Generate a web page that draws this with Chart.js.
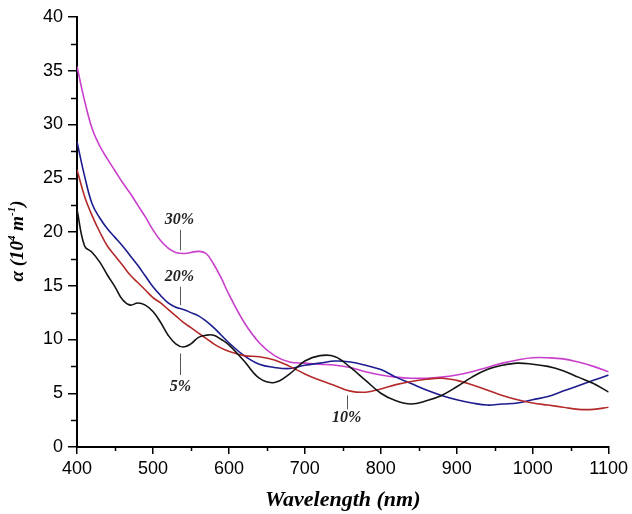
<!DOCTYPE html>
<html lang="en">
<head>
  <meta charset="UTF-8" />
  <title>Absorption coefficient</title>
  <script src="https://cdn.jsdelivr.net/npm/chart.js"></script>
  <style>
    body {
      margin: 0;
      background: #fff;
    }
    canvas {
      display: block;
    }
  </style>
</head>
<body>
  <canvas id="alphaChart" width="632" height="514"></canvas>

  <script>
    // wavelength grid (nm): 10 nm steps up to 600, 20 nm after
    const wavelength = [
      400, 410, 420, 430, 440, 450, 460, 470, 480, 490, 500,
      510, 520, 530, 540, 550, 560, 570, 580, 590, 600,
      620, 640, 660, 680, 700, 720, 740, 760, 780, 800,
      820, 840, 860, 880, 900, 920, 940, 960, 980, 1000,
      1020, 1040, 1060, 1080, 1100
    ];

    // absorption coefficient, 10^4 m^-1
    const alpha5 = [
      22.1, 18.7, 18.1, 17.2, 16.0, 14.9, 13.7, 13.2, 13.4, 13.2, 12.6,
      11.6, 10.4, 9.6, 9.3, 9.6, 10.2, 10.4, 10.4, 10.0, 9.5,
      8.0, 6.4, 6.0, 6.8, 8.0, 8.5, 8.4, 7.4, 6.2, 5.0,
      4.3, 4.0, 4.3, 4.8, 5.6, 6.5, 7.2, 7.6, 7.8, 7.7,
      7.5, 7.1, 6.5, 5.9, 5.1
    ];
    const alpha10 = [
      25.8, 23.3, 21.5, 20.0, 18.7, 17.8, 16.9, 16.0, 15.3, 14.6, 13.9,
      13.4, 12.8, 12.2, 11.6, 11.1, 10.6, 10.1, 9.6, 9.2, 8.9,
      8.5, 8.4, 8.1, 7.5, 6.8, 6.2, 5.7, 5.2, 5.1, 5.4,
      5.8, 6.1, 6.3, 6.4, 6.2, 5.8, 5.3, 4.8, 4.4, 4.1,
      3.9, 3.7, 3.5, 3.5, 3.7
    ];
    const alpha20 = [
      28.4, 25.2, 22.6, 21.3, 20.3, 19.5, 18.7, 17.8, 16.9, 15.9, 14.9,
      14.1, 13.4, 13.0, 12.8, 12.5, 12.2, 11.7, 11.1, 10.4, 9.7,
      8.5, 7.7, 7.4, 7.3, 7.6, 7.8, 8.0, 7.9, 7.6, 7.2,
      6.5, 5.9, 5.3, 4.8, 4.4, 4.1, 3.9, 4.0, 4.1, 4.4,
      4.7, 5.2, 5.7, 6.2, 6.7
    ];
    const alpha30 = [
      35.4, 32.2, 29.6, 28.0, 26.8, 25.7, 24.6, 23.6, 22.5, 21.4, 20.2,
      19.2, 18.5, 18.1, 18.0, 18.1, 18.2, 18.0, 17.0, 15.7, 14.2,
      11.6, 9.7, 8.5, 7.9, 7.8, 7.7, 7.6, 7.4, 7.0, 6.7,
      6.5, 6.4, 6.4, 6.5, 6.7, 7.0, 7.4, 7.8, 8.1, 8.3,
      8.3, 8.2, 7.9, 7.5, 7.0
    ];

    const seriesNames = ['5%', '10%', '20%', '30%'];
    const seriesColors = ['#141414', '#b42a2a', '#1c1c8e', '#c93fcb'];

    // curve labels: text position and leader line, in data units
    const curveLabels = [
      { text: '30%', x: 535, textY: 21.1, from: 20.2, to: 18.3 },
      { text: '20%', x: 535, textY: 15.8, from: 14.9, to: 13.2 },
      { text: '5%',  x: 536, textY: 5.6,  from: 8.7,  to: 6.7 },
      { text: '10%', x: 755, textY: 2.7,  from: 4.8,  to: 3.5 }
    ];

    const minorX = [450, 550, 650, 750, 850, 950, 1050];
    const minorY = [2.5, 7.5, 12.5, 17.5, 22.5, 27.5, 32.5, 37.5];

    // y title pieces: [text, superscript?]
    const yTitle = [['α (10', false], ['4', true], [' m', false], ['-1', true], [')', false]];

    const toPoints = ys => ys.map((y, i) => ({ x: wavelength[i], y: y }));

    const serif = '"Liberation Serif", "Times New Roman", serif';

    const extras = {
      id: 'extras',
      afterDraw(chart) {
        const { ctx, scales: { x, y } } = chart;
        const bottom = y.bottom;
        ctx.save();
        // minor ticks
        ctx.strokeStyle = '#000';
        ctx.lineWidth = 1.5;
        ctx.beginPath();
        minorX.forEach(v => {
          const px = Math.round(x.getPixelForValue(v)) + 0.5;
          ctx.moveTo(px, bottom);
          ctx.lineTo(px, bottom + 4);
        });
        minorY.forEach(v => {
          const py = Math.round(y.getPixelForValue(v)) + 0.5;
          ctx.moveTo(x.left, py);
          ctx.lineTo(x.left - 6, py);
        });
        ctx.stroke();

        // curve labels
        ctx.font = 'italic bold 16px ' + serif;
        ctx.textAlign = 'center';
        ctx.textBaseline = 'middle';
        curveLabels.forEach(l => {
          const px = x.getPixelForValue(l.x);
          ctx.strokeStyle = '#555';
          ctx.lineWidth = 1;
          ctx.beginPath();
          ctx.moveTo(Math.round(px) + 0.5, y.getPixelForValue(l.from));
          ctx.lineTo(Math.round(px) + 0.5, y.getPixelForValue(l.to));
          ctx.stroke();
          ctx.fillStyle = '#222';
          ctx.fillText(l.text, px, y.getPixelForValue(l.textY));
        });

        // rotated y title with superscripts
        const big = 'italic bold 19px ' + serif;
        const small = 'italic bold 11px ' + serif;
        let total = 0;
        yTitle.forEach(([t, sup]) => {
          ctx.font = sup ? small : big;
          total += ctx.measureText(t).width;
        });
        ctx.translate(23, (y.top + y.bottom) / 2 + 9);
        ctx.rotate(-Math.PI / 2);
        ctx.textAlign = 'left';
        ctx.textBaseline = 'alphabetic';
        ctx.fillStyle = '#000';
        let cx = -total / 2;
        yTitle.forEach(([t, sup]) => {
          ctx.font = sup ? small : big;
          ctx.fillText(t, cx, sup ? -8 : 0);
          cx += ctx.measureText(t).width;
        });
        ctx.restore();
      }
    };

    const tickFont = { family: '"Liberation Sans", Arial, sans-serif', size: 18 };

    new Chart(document.getElementById('alphaChart'), {
      type: 'line',
      data: {
        datasets: [alpha5, alpha10, alpha20, alpha30].map((ys, i) => ({
          label: seriesNames[i],
          data: toPoints(ys),
          borderColor: seriesColors[i],
          borderWidth: 1.6,
          pointRadius: 0,
          tension: 0.4,
          fill: false
        }))
      },
      options: {
        responsive: false,
        animation: false,
        layout: { padding: { top: 17, right: 21, left: 0, bottom: 0 } },
        plugins: {
          legend: { display: false },
          tooltip: { enabled: false }
        },
        scales: {
          x: {
            type: 'linear',
            min: 400,
            max: 1100,
            afterFit: s => { s.height = 67; },
            border: { color: '#000', width: 2 },
            grid: { drawOnChartArea: false, color: '#000', lineWidth: 1.5, tickLength: 7 },
            ticks: { stepSize: 100, color: '#000', font: tickFont, padding: 4, maxRotation: 0, callback: v => String(v) },
            title: {
              display: true,
              text: 'Wavelength (nm)',
              color: '#000',
              font: { family: serif, size: 22, weight: 'bold', style: 'italic' },
              padding: { top: 0, bottom: 0 }
            }
          },
          y: {
            min: 0,
            max: 40,
            afterFit: s => { s.width = 77; },
            border: { color: '#000', width: 2 },
            grid: { drawOnChartArea: false, color: '#000', lineWidth: 1.5, tickLength: 9 },
            ticks: { stepSize: 5, color: '#000', font: tickFont, padding: 5, callback: v => String(v) }
          }
        }
      },
      plugins: [extras]
    });
  </script>
</body>
</html>
